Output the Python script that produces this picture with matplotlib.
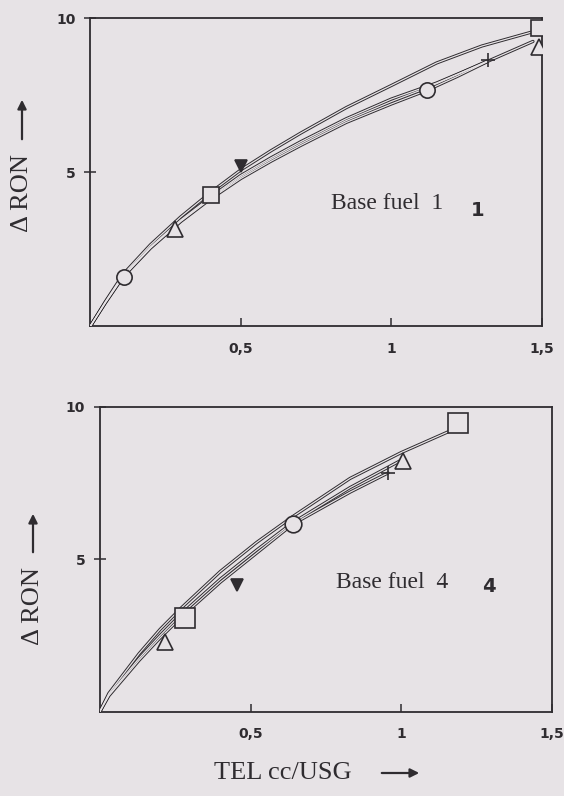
import matplotlib
matplotlib.use("Agg")
import matplotlib.pyplot as plt

# ---------------- data ----------------
# Base fuel 1 (top panel) curves
top_a_x = [0, 0.05, 0.11, 0.2, 0.3, 0.4, 0.5, 0.6, 0.7, 0.85, 1.0, 1.15, 1.3, 1.49]
top_a_y = [0, 0.80, 1.70, 2.65, 3.55, 4.35, 5.08, 5.70, 6.28, 7.10, 7.82, 8.55, 9.10, 9.62]
top_b_x = [0, 0.05, 0.11, 0.2, 0.3, 0.4, 0.5, 0.6, 0.7, 0.85, 1.0, 1.15, 1.3, 1.47]
top_b_y = [0, 0.78, 1.65, 2.58, 3.45, 4.20, 4.90, 5.47, 6.00, 6.74, 7.38, 7.90, 8.52, 9.25]
top_c_x = [0, 0.05, 0.11, 0.2, 0.3, 0.4, 0.5, 0.6, 0.7, 0.85, 1.0, 1.117, 1.22, 1.32]
top_c_y = [0, 0.76, 1.62, 2.54, 3.40, 4.14, 4.80, 5.36, 5.88, 6.62, 7.22, 7.66, 8.12, 8.60]
top_d_y = [0, 0.77, 1.63, 2.56, 3.42, 4.17, 4.85, 5.42, 5.94, 6.68, 7.30, 7.74, 8.18, 8.62]

# Base fuel 4 (bottom panel) curves
bot_a_x = [0, 0.03, 0.08, 0.13, 0.2, 0.27, 0.4, 0.52, 0.64, 0.83, 1.0, 1.16]
bot_a_y = [0, 0.60, 1.25, 1.90, 2.70, 3.40, 4.60, 5.55, 6.40, 7.65, 8.50, 9.20]
bot_b_x = [0, 0.03, 0.08, 0.13, 0.2, 0.27, 0.4, 0.52, 0.64, 0.83, 1.0]
bot_b_y = [0, 0.55, 1.15, 1.75, 2.50, 3.20, 4.35, 5.30, 6.20, 7.35, 8.25]
bot_c_x = [0, 0.03, 0.08, 0.13, 0.2, 0.27, 0.4, 0.52, 0.64, 0.83, 0.956]
bot_c_y = [0, 0.52, 1.10, 1.68, 2.42, 3.10, 4.25, 5.20, 6.15, 7.20, 7.83]

# marker points
top_sq_x, top_sq_y = [0.40, 1.49], [4.25, 9.67]
top_tu_x, top_tu_y = [0.283, 1.49], [3.17, 9.07]
top_ci_x, top_ci_y = [0.111, 1.117], [1.60, 7.66]
top_td_x, top_td_y = [0.50], [5.20]
top_pl_x, top_pl_y = [1.322], [8.64]

bot_sq_x, bot_sq_y = [0.283, 1.189], [3.07, 9.46]
bot_tu_x, bot_tu_y = [0.217, 1.006], [2.30, 8.22]
bot_ci_x, bot_ci_y = [0.639], [6.16]
bot_td_x, bot_td_y = [0.456], [4.16]
bot_pl_x, bot_pl_y = [0.956], [7.83]

x_ticks = [0.5, 1.0, 1.5]
x_ticklabels = ["0,5", "1", "1,5"]
y_ticks = [5, 10]
y_ticklabels = ["5", "10"]

# ---------------- style ----------------
paper = "#e7e3e6"
ink = "#2f2c30"

fig = plt.figure(figsize=(5.64, 7.96), dpi=100, facecolor=paper)


def hollow(ax, x, y):
    ax.plot(x, y, color=ink, lw=2.3, solid_capstyle="round", zorder=2)
    ax.plot(x, y, color=paper, lw=0.9, solid_capstyle="round", zorder=3)


def mk(ax, x, y, m, ms, filled=False):
    ax.plot(x, y, linestyle="none", marker=m, ms=ms,
            mfc=(ink if filled else paper), mec=ink, mew=1.2, zorder=5)


def setup(ax):
    ax.set_facecolor(paper)
    ax.set_xlim(0, 1.5)
    ax.set_ylim(0, 10)
    for s in ax.spines.values():
        s.set_color(ink)
        s.set_linewidth(1.3)
    ax.set_xticks(x_ticks)
    ax.set_xticklabels(x_ticklabels)
    ax.set_yticks(y_ticks)
    ax.set_yticklabels(y_ticklabels)
    ax.tick_params(axis="x", direction="in", length=6, width=1.1, color=ink,
                   pad=11, labelsize=10, labelcolor=ink)
    ax.tick_params(axis="y", direction="inout", length=9, width=1.1, color=ink,
                   pad=6, labelsize=10, labelcolor=ink)
    for lab in ax.get_xticklabels() + ax.get_yticklabels():
        lab.set_fontweight("bold")


def arrow(x0, y0, x1, y1):
    # arrow in figure pixel coordinates measured from the top-left corner
    H = 796
    fig.add_artist(matplotlib.patches.FancyArrowPatch(
        (x0, H - y0), (x1, H - y1), transform=None,
        arrowstyle="-|>", mutation_scale=13, lw=1.6, color=ink))


ax1 = fig.add_axes([0.160, 0.590, 0.801, 0.387])
setup(ax1)
hollow(ax1, top_a_x, top_a_y)
hollow(ax1, top_b_x, top_b_y)
hollow(ax1, top_c_x, top_c_y)
hollow(ax1, top_c_x, top_d_y)
mk(ax1, top_sq_x, top_sq_y, "s", 11)
mk(ax1, top_tu_x, top_tu_y, "^", 12)
mk(ax1, top_ci_x, top_ci_y, "o", 11)
mk(ax1, top_td_x, top_td_y, "v", 8, filled=True)
mk(ax1, top_pl_x, top_pl_y, "+", 10)
ax1.text(0.533, 0.40, "Base fuel  1", transform=ax1.transAxes, ha="left", va="center",
         fontsize=17, family="Liberation Serif", color=ink)
ax1.text(0.858, 0.377, "1", transform=ax1.transAxes, ha="center", va="center",
         fontsize=14, fontweight="bold", family="DejaVu Sans", color=ink)

ax2 = fig.add_axes([0.177, 0.106, 0.802, 0.383])
setup(ax2)
hollow(ax2, bot_a_x, bot_a_y)
hollow(ax2, bot_b_x, bot_b_y)
hollow(ax2, bot_c_x, bot_c_y)
mk(ax2, bot_sq_x, bot_sq_y, "s", 14)
mk(ax2, bot_tu_x, bot_tu_y, "^", 12)
mk(ax2, bot_ci_x, bot_ci_y, "o", 12)
mk(ax2, bot_td_x, bot_td_y, "v", 8, filled=True)
mk(ax2, bot_pl_x, bot_pl_y, "+", 10)
ax2.text(0.522, 0.423, "Base fuel  4", transform=ax2.transAxes, ha="left", va="center",
         fontsize=17, family="Liberation Serif", color=ink)
ax2.text(0.861, 0.41, "4", transform=ax2.transAxes, ha="center", va="center",
         fontsize=14, fontweight="bold", family="DejaVu Sans", color=ink)

serif = "Liberation Serif"
fig.text(22 / 564, 1 - 193 / 796, "\u0394 RON", rotation=90, ha="center", va="center",
         fontsize=19, family=serif, color=ink)
arrow(22, 142, 22, 97)
fig.text(33 / 564, 1 - 606 / 796, "\u0394 RON", rotation=90, ha="center", va="center",
         fontsize=19, family=serif, color=ink)
arrow(33, 555, 33, 511)
fig.text(283 / 564, 1 - 773 / 796, "TEL cc/USG", ha="center", va="center",
         fontsize=19, family=serif, color=ink)
arrow(379, 773, 422, 773)

fig.savefig("out.png", dpi=100, facecolor=paper)
